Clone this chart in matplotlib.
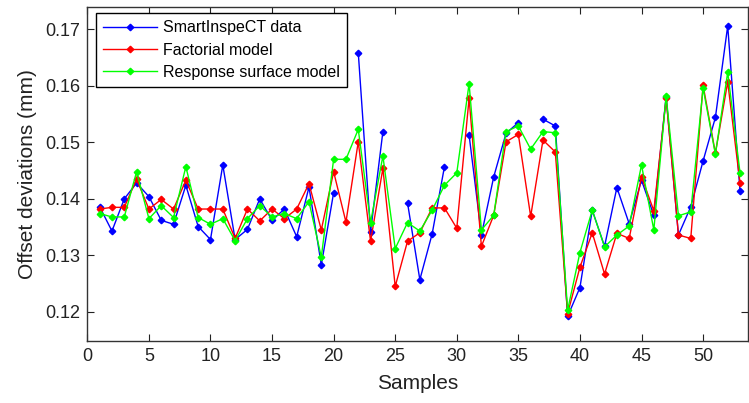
import numpy as np
import matplotlib
matplotlib.use("Agg")
import matplotlib.pyplot as plt

plt.rcParams['font.family'] = ['Liberation Sans', 'DejaVu Sans']

# samples 1..53 (blue has a few gaps)
samples = np.arange(1, 54)

smart_data = [
    0.1386, 0.1343, 0.1400, 0.1428, 0.1404, 0.1362, 0.1355, 0.1424, 0.1351, 0.1328,
    0.1460, 0.1328, 0.1346, 0.1400, 0.1362, 0.1382, 0.1333, 0.1421, 0.1283, 0.1411,
    np.nan, 0.1659, 0.1342, 0.1519, np.nan, 0.1393, 0.1257, 0.1338, 0.1457, np.nan,
    0.1513, 0.1336, 0.1439, 0.1516, 0.1535, np.nan, 0.1541, 0.1529, 0.1192, 0.1243,
    0.1380, 0.1316, 0.1420, 0.1356, 0.1433, 0.1371, 0.1581, 0.1336, 0.1386, 0.1467,
    0.1544, 0.1706, 0.1414,
]
factorial_model = [
    0.1382, 0.1385, 0.1385, 0.1435, 0.1382, 0.1399, 0.1382, 0.1433, 0.1382, 0.1382,
    0.1382, 0.1330, 0.1382, 0.1361, 0.1382, 0.1365, 0.1382, 0.1427, 0.1345, 0.1448,
    0.1359, 0.1501, 0.1325, 0.1454, 0.1245, 0.1325, 0.1340, 0.1384, 0.1384, 0.1348,
    0.1578, 0.1316, 0.1371, 0.1501, 0.1514, 0.1369, 0.1504, 0.1483, 0.1197, 0.1279,
    0.1340, 0.1267, 0.1339, 0.1330, 0.1439, 0.1379, 0.1578, 0.1336, 0.1330, 0.1601,
    0.1481, 0.1607, 0.1428,
]
response_surface = [
    0.1374, 0.1368, 0.1368, 0.1448, 0.1365, 0.1388, 0.1367, 0.1457, 0.1367, 0.1355,
    0.1365, 0.1326, 0.1365, 0.1388, 0.1368, 0.1374, 0.1365, 0.1395, 0.1297, 0.1470,
    0.1470, 0.1523, 0.1358, 0.1476, 0.1312, 0.1358, 0.1343, 0.1380, 0.1424, 0.1446,
    0.1604, 0.1345, 0.1371, 0.1519, 0.1529, 0.1488, 0.1519, 0.1517, 0.1203, 0.1305,
    0.1380, 0.1315, 0.1336, 0.1352, 0.1460, 0.1345, 0.1582, 0.1370, 0.1377, 0.1596,
    0.1479, 0.1624, 0.1446,
]

fig = plt.figure(figsize=(7.49, 4.03), dpi=100)
ax = fig.add_axes([0.1166, 0.1546, 0.8821, 0.8273])

ax.plot(samples, smart_data, '-D', color=(0, 0, 1), lw=1, ms=3.3, label='SmartInspeCT data')
ax.plot(samples, factorial_model, '-D', color=(1, 0, 0), lw=1, ms=3.3, label='Factorial model')
ax.plot(samples, response_surface, '-D', color=(0, 1, 0), lw=1, ms=3.3, label='Response surface model')

ax.set_xlim(0, 53.65)
ax.set_ylim(0.1149, 0.1739)
ax.set_xticks(range(0, 55, 5))
ax.set_yticks([0.12, 0.13, 0.14, 0.15, 0.16, 0.17])
ax.set_yticklabels(['0.12', '0.13', '0.14', '0.15', '0.16', '0.17'])
ax.tick_params(direction='in', length=5, top=True, right=True, labelsize=13, colors='#222222', pad=5)
for s in ax.spines.values():
    s.set_color('#333333')
    s.set_linewidth(1)

ax.set_xlabel('Samples', fontsize=15, color='#222222', labelpad=7)
ax.set_ylabel('Offset deviations (mm)', fontsize=15, color='#222222', labelpad=6)

leg = ax.legend(loc='upper left', bbox_to_anchor=(0.013, 0.982), borderaxespad=0,
                fontsize=11.5, fancybox=False, framealpha=1, edgecolor='black',
                handlelength=3.4, handletextpad=0.35, labelspacing=0.45, borderpad=0.45)
leg.get_frame().set_linewidth(1)

fig.savefig('out.png', dpi=100)
